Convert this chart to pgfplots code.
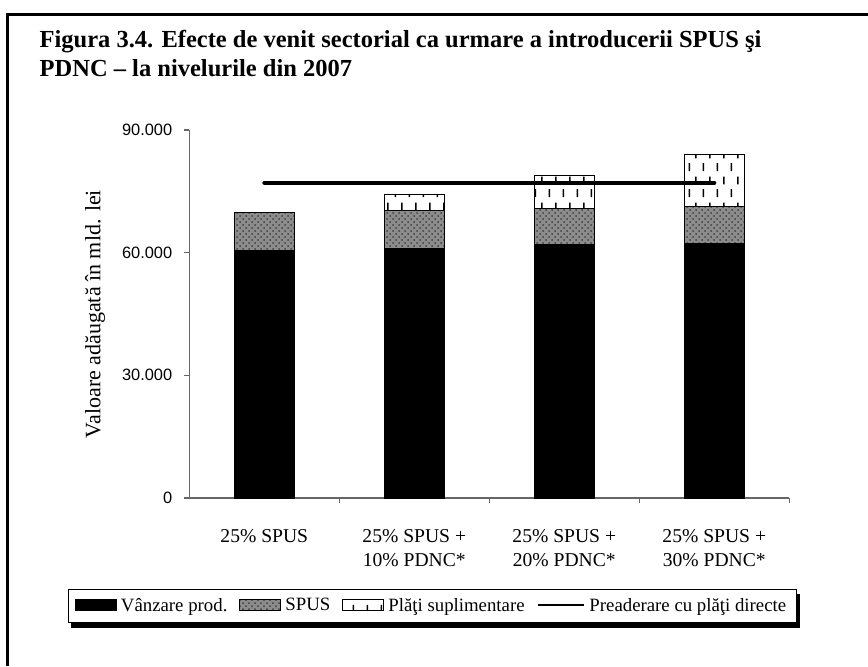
\documentclass[border=0pt]{standalone}
\usepackage{fontspec}
\setmainfont{Liberation Serif}
\setsansfont{Liberation Sans}
\usepackage{pgfplots}
\pgfplotsset{compat=1.18}
\usetikzlibrary{patterns}
\pgfdeclarepatternformonly{vdashes}{\pgfpointorigin}{\pgfqpoint{7pt}{13pt}}{\pgfqpoint{7pt}{13pt}}{%
  \pgfsetlinewidth{0.8pt}%
  \pgfpathmoveto{\pgfqpoint{1.75pt}{1pt}}\pgfpathlineto{\pgfqpoint{1.75pt}{5pt}}%
  \pgfpathmoveto{\pgfqpoint{5.25pt}{7.5pt}}\pgfpathlineto{\pgfqpoint{5.25pt}{11.5pt}}%
  \pgfusepath{stroke}}
\pgfplotsset{
  rectlegend/.style={legend image code/.code={\draw[##1] (0pt,-2.25pt) rectangle (20.5pt,3.25pt);}},
  linelegend/.style={legend image code/.code={\draw[##1] (0pt,0.5pt) -- (23pt,0.5pt);}},
}
\begin{document}
\begin{tikzpicture}
\useasboundingbox (0,0) rectangle (434pt,333pt);
% frame
\draw[line width=1.5pt] (3.5pt,0pt) -- (3.5pt,325.5pt) -- (434pt,325.5pt);
% title
\node[anchor=base west, align=left, font=\bfseries\fontsize{12.25}{14.5}\selectfont, inner sep=0pt] at (19.65pt,294.5pt)
  {Figura 3.4. Efecte de venit sectorial ca urmare a introducerii SPUS şi\\PDNC – la nivelurile din 2007};
\begin{axis}[
  at={(94.65pt,84pt)}, anchor=south west,
  scale only axis, width=300pt, height=184pt,
  ybar stacked, bar width=0.4,
  xmin=-0.5, xmax=3.5, ymin=0, ymax=90000,
  scaled y ticks=false,
  axis x line=bottom, axis y line=left,
  axis line style={-, draw=black!60, line width=0.6pt},
  tick align=outside, major tick length=2.5pt, minor tick length=2.5pt,
  tick style={draw=black!60, line width=0.6pt},
  xtick={0,1,2,3}, major x tick style={draw=none},
  minor xtick={0.5,1.5,2.5,3.5},
  xticklabels={25\% SPUS,{25\% SPUS +\\10\% PDNC*},{25\% SPUS +\\20\% PDNC*},{25\% SPUS +\\30\% PDNC*}},
  xticklabel style={align=center, anchor=north, yshift=-9.5pt, font=\fontsize{9.8}{12.25}\selectfont},
  ytick={0,30000,60000,90000},
  yticklabels={\textsf{0},\textsf{30.000},\textsf{60.000},\textsf{90.000}},
  yticklabel style={font=\fontsize{8.2}{10}\selectfont, xshift=-2.5pt},
  ylabel={Valoare adăugată în mld. lei},
  ylabel style={at={(axis description cs:-0.157,0.5)}, anchor=center, font=\fontsize{11}{13}\selectfont},
  legend columns=4,
  legend style={at={(axis description cs:0.4055,-0.2935)}, anchor=center, name=leg,
    draw=black, line width=0.5pt, fill=white,
    font=\fontsize{9.4}{11}\selectfont,
    /tikz/every even column/.append style={column sep=4pt}},
  rectlegend,
]
\addplot[fill=black, draw=black, line width=0.5pt] coordinates {(0,60600) (1,61100) (2,62000) (3,62300)};
\addlegendentry{Vânzare prod.}
\addplot[fill=black!45, draw=black, line width=0.5pt, postaction={pattern=crosshatch dots, pattern color=black!75}] coordinates {(0,9200) (1,9300) (2,8800) (3,8900)};
\addlegendentry{SPUS}
\addplot[fill=white, draw=black, line width=0.5pt, postaction={pattern=vdashes, pattern color=black}] coordinates {(0,0) (1,3800) (2,8000) (3,12700)};
\addlegendentry{Plăţi suplimentare}
\addlegendimage{black, line width=1.4pt, linelegend}
\addlegendentry{Preaderare cu plăţi directe}
\end{axis}
\fill[black] ([xshift=1.5pt]leg.south west) rectangle ([xshift=1.5pt,yshift=-2.5pt]leg.south east);
\fill[black] (leg.south east) rectangle ([xshift=1.5pt,yshift=-2.5pt]leg.north east);
\begin{axis}[
  at={(94.65pt,84pt)}, anchor=south west,
  scale only axis, width=300pt, height=184pt,
  xmin=-0.5, xmax=3.5, ymin=0, ymax=90000,
  hide axis,
]
\addplot[black, line width=2pt, line cap=round] coordinates {(0,77100) (3,77100)};
\end{axis}
\end{tikzpicture}
\end{document}
